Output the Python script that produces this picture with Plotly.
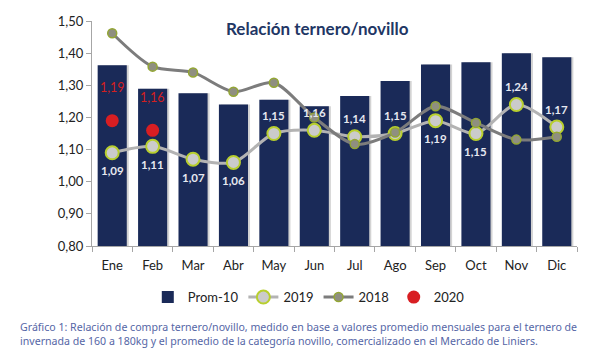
import plotly.graph_objects as go

months = ["Ene", "Feb", "Mar", "Abr", "May", "Jun", "Jul", "Ago", "Sep", "Oct", "Nov", "Dic"]
prom10 = [1.362, 1.289, 1.275, 1.240, 1.255, 1.235, 1.267, 1.313, 1.365, 1.372, 1.400, 1.387]
y2019 = [1.09, 1.11, 1.07, 1.06, 1.15, 1.16, 1.14, 1.15, 1.19, 1.15, 1.24, 1.17]
y2018 = [1.462, 1.358, 1.340, 1.280, 1.308, 1.200, 1.117, 1.153, 1.235, 1.183, 1.131, 1.140]
months2020 = ["Ene", "Feb"]
y2020 = [1.19, 1.16]

# label placement for 2019 values (style only)
lab2019_side = [-1, -1, -1, -1, 1, 1, 1, 1, -1, -1, 1, 1]

NAVY = "#1a2a58"
fig = go.Figure()

# bar shadows
fig.add_trace(go.Bar(x=months, y=prom10, width=0.72, offset=-0.31,
                     marker=dict(color="rgba(110,110,110,0.3)", line=dict(width=0)),
                     showlegend=False, hoverinfo="skip"))
fig.add_trace(go.Bar(x=months, y=prom10, width=0.72, offset=-0.36, name="Prom-10",
                     marker=dict(color=NAVY, line=dict(width=0))))
fig.add_trace(go.Scatter(x=months, y=y2019, name="2019", mode="lines+markers",
                         line=dict(color="#b3b3b3", width=3, shape="spline", smoothing=0.8),
                         marker=dict(size=13, color="#cbcbcb", line=dict(color="#b8cf2e", width=2))))
fig.add_trace(go.Scatter(x=months, y=y2018, name="2018", mode="lines+markers",
                         line=dict(color="#7c7c7c", width=3, shape="spline", smoothing=0.8),
                         marker=dict(size=9, color="#8f8f80", line=dict(color="#93a634", width=1.5))))
fig.add_trace(go.Scatter(x=months2020, y=y2020, name="2020", mode="markers",
                         marker=dict(size=13, color="#d81e22")))

def fmt(v):
    return f"{v:.2f}".replace(".", ",")

for m, v, s in zip(months, y2019, lab2019_side):
    fig.add_annotation(x=m, y=v, text=f"<b>{fmt(v)}</b>", showarrow=False,
                       yshift=18 * s, font=dict(family="Lato", size=11.5, color="#e6e8f0"))
for m, v in zip(months2020, y2020):
    fig.add_annotation(x=m, y=v, text=fmt(v), showarrow=False, yshift=33,
                       font=dict(family="Lato", size=12.5, color="#d42020"))

fig.add_annotation(xref="paper", yref="paper", x=0.464, y=1.0, yanchor="middle", yshift=-7,
                   text="<b>Relación ternero/novillo</b>", showarrow=False,
                   font=dict(family="Lato", size=17, color="#1f3765"))

cap_font = dict(family="Noto Sans", size=10.6, color="#5566a6")
fig.add_annotation(xref="paper", yref="paper", x=-0.1526, xanchor="left", y=-0.318, yanchor="top",
                   text="Gráfico 1: Relación de compra ternero/novillo, medido en base a valores promedio mensuales para el ternero de<br>"
                        "invernada de 160 a 180kg y el promedio de la categoría novillo, comercializado en el Mercado de Liniers.",
                   align="left", showarrow=False, font=cap_font)

fig.update_layout(
    width=602, height=360,
    margin=dict(l=84, r=33, t=13, b=122, autoexpand=False),
    paper_bgcolor="white", plot_bgcolor="white",
    barmode="overlay",
    separators=",.",
    font=dict(family="Lato", color="#333333"),
    showlegend=True,
    legend=dict(orientation="h", xref="paper", x=0.447, xanchor="center",
                yref="container", y=0.197, yanchor="middle",
                font=dict(family="Lato", size=13, color="#222222"),
                traceorder="normal", bgcolor="rgba(0,0,0,0)"),
    xaxis=dict(type="category", categoryorder="array", categoryarray=months,
               showline=True, linecolor="#a6a6a6", linewidth=1, ticks="outside",
               tickson="boundaries", ticklen=5, tickcolor="#a6a6a6", tickangle=0,
               ticklabelstandoff=7,
               tickfont=dict(size=13, color="#222222"), showgrid=False, range=[-0.5, 11.5]),
    yaxis=dict(range=[0.8, 1.5], dtick=0.1, tickformat=".2f", showgrid=False,
               showline=True, linecolor="#a6a6a6", linewidth=1, ticks="outside",
               ticklen=5, tickcolor="#a6a6a6", tickfont=dict(size=13, color="#222222"),
               zeroline=False),
)

fig.write_html("out.html")
